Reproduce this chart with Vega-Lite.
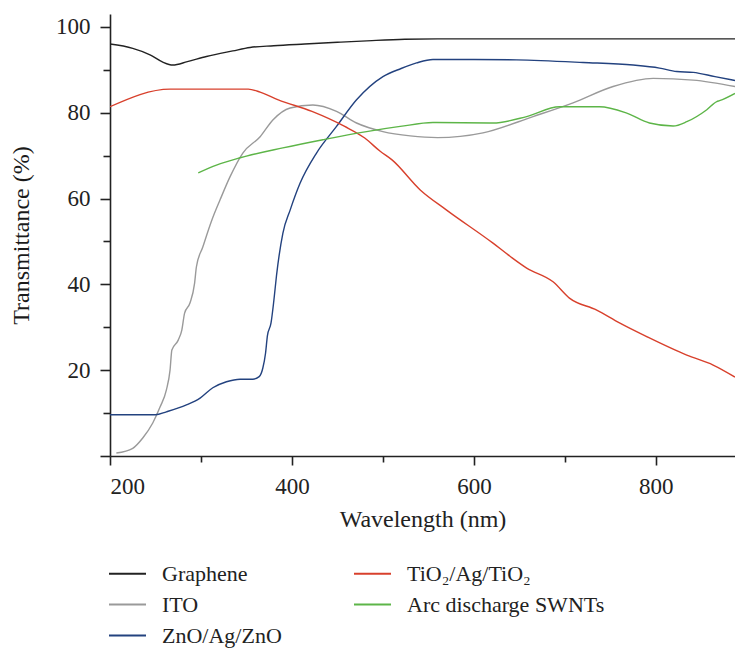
{
  "$schema": "https://vega.github.io/schema/vega-lite/v6.json",
  "autosize": "none",
  "width": 625,
  "height": 442,
  "padding": {"left": 110, "top": 14, "right": 0, "bottom": 192},
  "background": "white",
  "config": {
    "view": {"stroke": null},
    "font": "Liberation Serif"
  },
  "datasets": {
    "curves": [
      {"series": "Graphene", "nm": 200, "T": 96.0},
      {"series": "Graphene", "nm": 225, "T": 95.0},
      {"series": "Graphene", "nm": 244, "T": 93.5},
      {"series": "Graphene", "nm": 258, "T": 91.8},
      {"series": "Graphene", "nm": 269, "T": 91.1},
      {"series": "Graphene", "nm": 285, "T": 91.9},
      {"series": "Graphene", "nm": 306, "T": 93.1},
      {"series": "Graphene", "nm": 335, "T": 94.4},
      {"series": "Graphene", "nm": 354, "T": 95.2},
      {"series": "Graphene", "nm": 380, "T": 95.6},
      {"series": "Graphene", "nm": 414, "T": 96.0},
      {"series": "Graphene", "nm": 450, "T": 96.4},
      {"series": "Graphene", "nm": 488, "T": 96.8},
      {"series": "Graphene", "nm": 524, "T": 97.1},
      {"series": "Graphene", "nm": 560, "T": 97.2},
      {"series": "Graphene", "nm": 887, "T": 97.2},

      {"series": "ITO", "nm": 207, "T": 0.7},
      {"series": "ITO", "nm": 225, "T": 1.8},
      {"series": "ITO", "nm": 236, "T": 4.2},
      {"series": "ITO", "nm": 247, "T": 7.7},
      {"series": "ITO", "nm": 255, "T": 11.4},
      {"series": "ITO", "nm": 262, "T": 15.4},
      {"series": "ITO", "nm": 266, "T": 20.0},
      {"series": "ITO", "nm": 268, "T": 24.7},
      {"series": "ITO", "nm": 275, "T": 27.0},
      {"series": "ITO", "nm": 279, "T": 29.4},
      {"series": "ITO", "nm": 282, "T": 33.3},
      {"series": "ITO", "nm": 288, "T": 35.7},
      {"series": "ITO", "nm": 293, "T": 40.3},
      {"series": "ITO", "nm": 295, "T": 44.1},
      {"series": "ITO", "nm": 302, "T": 48.7},
      {"series": "ITO", "nm": 312, "T": 55.0},
      {"series": "ITO", "nm": 321, "T": 59.7},
      {"series": "ITO", "nm": 332, "T": 65.1},
      {"series": "ITO", "nm": 346, "T": 70.6},
      {"series": "ITO", "nm": 365, "T": 74.4},
      {"series": "ITO", "nm": 379, "T": 78.3},
      {"series": "ITO", "nm": 398, "T": 81.1},
      {"series": "ITO", "nm": 423, "T": 81.8},
      {"series": "ITO", "nm": 449, "T": 80.3},
      {"series": "ITO", "nm": 471, "T": 77.6},
      {"series": "ITO", "nm": 500, "T": 75.6},
      {"series": "ITO", "nm": 530, "T": 74.6},
      {"series": "ITO", "nm": 560, "T": 74.2},
      {"series": "ITO", "nm": 610, "T": 75.3},
      {"series": "ITO", "nm": 665, "T": 79.1},
      {"series": "ITO", "nm": 709, "T": 82.3},
      {"series": "ITO", "nm": 753, "T": 86.1},
      {"series": "ITO", "nm": 797, "T": 88.0},
      {"series": "ITO", "nm": 841, "T": 87.6},
      {"series": "ITO", "nm": 887, "T": 86.1},

      {"series": "ZnO/Ag/ZnO", "nm": 200, "T": 9.6},
      {"series": "ZnO/Ag/ZnO", "nm": 250, "T": 9.6},
      {"series": "ZnO/Ag/ZnO", "nm": 262, "T": 10.3},
      {"series": "ZnO/Ag/ZnO", "nm": 284, "T": 11.9},
      {"series": "ZnO/Ag/ZnO", "nm": 299, "T": 13.5},
      {"series": "ZnO/Ag/ZnO", "nm": 313, "T": 15.9},
      {"series": "ZnO/Ag/ZnO", "nm": 328, "T": 17.3},
      {"series": "ZnO/Ag/ZnO", "nm": 343, "T": 17.9},
      {"series": "ZnO/Ag/ZnO", "nm": 357, "T": 17.9},
      {"series": "ZnO/Ag/ZnO", "nm": 364, "T": 18.5},
      {"series": "ZnO/Ag/ZnO", "nm": 368, "T": 20.5},
      {"series": "ZnO/Ag/ZnO", "nm": 371, "T": 24.0},
      {"series": "ZnO/Ag/ZnO", "nm": 373, "T": 28.0},
      {"series": "ZnO/Ag/ZnO", "nm": 377, "T": 31.0},
      {"series": "ZnO/Ag/ZnO", "nm": 380, "T": 36.0},
      {"series": "ZnO/Ag/ZnO", "nm": 383, "T": 42.0},
      {"series": "ZnO/Ag/ZnO", "nm": 390, "T": 51.9},
      {"series": "ZnO/Ag/ZnO", "nm": 398, "T": 57.3},
      {"series": "ZnO/Ag/ZnO", "nm": 409, "T": 63.6},
      {"series": "ZnO/Ag/ZnO", "nm": 427, "T": 70.6},
      {"series": "ZnO/Ag/ZnO", "nm": 449, "T": 76.8},
      {"series": "ZnO/Ag/ZnO", "nm": 471, "T": 83.0},
      {"series": "ZnO/Ag/ZnO", "nm": 500, "T": 88.4},
      {"series": "ZnO/Ag/ZnO", "nm": 520, "T": 90.3},
      {"series": "ZnO/Ag/ZnO", "nm": 537, "T": 91.6},
      {"series": "ZnO/Ag/ZnO", "nm": 555, "T": 92.4},
      {"series": "ZnO/Ag/ZnO", "nm": 600, "T": 92.4},
      {"series": "ZnO/Ag/ZnO", "nm": 647, "T": 92.3},
      {"series": "ZnO/Ag/ZnO", "nm": 720, "T": 91.7},
      {"series": "ZnO/Ag/ZnO", "nm": 775, "T": 91.1},
      {"series": "ZnO/Ag/ZnO", "nm": 804, "T": 90.4},
      {"series": "ZnO/Ag/ZnO", "nm": 823, "T": 89.6},
      {"series": "ZnO/Ag/ZnO", "nm": 841, "T": 89.4},
      {"series": "ZnO/Ag/ZnO", "nm": 865, "T": 88.4},
      {"series": "ZnO/Ag/ZnO", "nm": 887, "T": 87.5},

      {"series": "TiO₂/Ag/TiO₂", "nm": 200, "T": 81.4},
      {"series": "TiO₂/Ag/TiO₂", "nm": 266, "T": 85.5},
      {"series": "TiO₂/Ag/TiO₂", "nm": 352, "T": 85.5},
      {"series": "TiO₂/Ag/TiO₂", "nm": 365, "T": 84.8},
      {"series": "TiO₂/Ag/TiO₂", "nm": 385, "T": 83.0},
      {"series": "TiO₂/Ag/TiO₂", "nm": 422, "T": 80.3},
      {"series": "TiO₂/Ag/TiO₂", "nm": 458, "T": 76.8},
      {"series": "TiO₂/Ag/TiO₂", "nm": 480, "T": 74.1},
      {"series": "TiO₂/Ag/TiO₂", "nm": 497, "T": 71.0},
      {"series": "TiO₂/Ag/TiO₂", "nm": 510, "T": 69.0},
      {"series": "TiO₂/Ag/TiO₂", "nm": 541, "T": 62.0},
      {"series": "TiO₂/Ag/TiO₂", "nm": 570, "T": 57.3},
      {"series": "TiO₂/Ag/TiO₂", "nm": 621, "T": 49.6},
      {"series": "TiO₂/Ag/TiO₂", "nm": 640, "T": 46.5},
      {"series": "TiO₂/Ag/TiO₂", "nm": 658, "T": 43.8},
      {"series": "TiO₂/Ag/TiO₂", "nm": 687, "T": 40.6},
      {"series": "TiO₂/Ag/TiO₂", "nm": 705, "T": 36.8},
      {"series": "TiO₂/Ag/TiO₂", "nm": 735, "T": 34.0},
      {"series": "TiO₂/Ag/TiO₂", "nm": 760, "T": 31.0},
      {"series": "TiO₂/Ag/TiO₂", "nm": 790, "T": 27.8},
      {"series": "TiO₂/Ag/TiO₂", "nm": 834, "T": 23.5},
      {"series": "TiO₂/Ag/TiO₂", "nm": 863, "T": 21.2},
      {"series": "TiO₂/Ag/TiO₂", "nm": 887, "T": 18.4},

      {"series": "Arc discharge SWNTs", "nm": 297, "T": 66.0},
      {"series": "Arc discharge SWNTs", "nm": 317, "T": 67.8},
      {"series": "Arc discharge SWNTs", "nm": 343, "T": 69.5},
      {"series": "Arc discharge SWNTs", "nm": 390, "T": 71.8},
      {"series": "Arc discharge SWNTs", "nm": 434, "T": 73.7},
      {"series": "Arc discharge SWNTs", "nm": 482, "T": 75.6},
      {"series": "Arc discharge SWNTs", "nm": 519, "T": 76.8},
      {"series": "Arc discharge SWNTs", "nm": 555, "T": 77.7},
      {"series": "Arc discharge SWNTs", "nm": 621, "T": 77.6},
      {"series": "Arc discharge SWNTs", "nm": 658, "T": 79.1},
      {"series": "Arc discharge SWNTs", "nm": 694, "T": 81.4},
      {"series": "Arc discharge SWNTs", "nm": 738, "T": 81.4},
      {"series": "Arc discharge SWNTs", "nm": 768, "T": 79.9},
      {"series": "Arc discharge SWNTs", "nm": 793, "T": 77.6},
      {"series": "Arc discharge SWNTs", "nm": 819, "T": 76.9},
      {"series": "Arc discharge SWNTs", "nm": 834, "T": 77.9},
      {"series": "Arc discharge SWNTs", "nm": 856, "T": 80.7},
      {"series": "Arc discharge SWNTs", "nm": 867, "T": 82.6},
      {"series": "Arc discharge SWNTs", "nm": 870, "T": 82.8},
      {"series": "Arc discharge SWNTs", "nm": 887, "T": 84.5}
    ]
  },
  "layer": [
    {
      "mark": {"type": "rule", "color": "#222222", "strokeWidth": 1.6},
      "encoding": {
        "y": {"datum": 103, "type": "quantitative", "scale": {"domain": [0, 103], "nice": false}}
      }
    },
    {
      "data": {"name": "curves"},
      "mark": {"type": "line", "interpolate": "monotone", "strokeWidth": 1.4, "clip": true},
      "encoding": {
        "x": {
          "field": "nm", "type": "quantitative",
          "scale": {"domain": [200, 887], "nice": false, "zero": false},
          "axis": {
            "title": "Wavelength (nm)",
            "values": [200, 300, 400, 500, 600, 700, 800],
            "labelExpr": "datum.value % 200 === 0 ? datum.label : ''",
            "tickSize": {"condition": {"test": "datum.value % 200 === 0", "value": 9}, "value": 6},
            "grid": false,
            "domainColor": "#222222", "tickColor": "#222222", "domainWidth": 1.6, "tickWidth": 1.6,
            "labelFont": "Liberation Serif", "labelFontSize": 23, "labelColor": "#222222", "labelPadding": 10,
            "titleFont": "Liberation Serif", "titleFontSize": 24, "titleFontWeight": "normal", "titleColor": "#222222", "titlePadding": 9
          }
        },
        "y": {
          "field": "T", "type": "quantitative",
          "scale": {"domain": [0, 103], "nice": false},
          "axis": {
            "title": "Transmittance (%)",
            "values": [0, 10, 20, 30, 40, 50, 60, 70, 80, 90, 100],
            "labelExpr": "datum.value % 20 === 0 && datum.value > 0 ? datum.label : ''",
            "tickSize": {"condition": {"test": "datum.value % 20 === 0", "value": 10}, "value": 7},
            "grid": false,
            "domainColor": "#222222", "tickColor": "#222222", "domainWidth": 1.6, "tickWidth": 1.6,
            "labelFont": "Liberation Serif", "labelFontSize": 23, "labelColor": "#222222", "labelPadding": 10,
            "titleFont": "Liberation Serif", "titleFontSize": 24, "titleFontWeight": "normal", "titleColor": "#1a1a1a", "titlePadding": 22
          }
        },
        "color": {
          "field": "series", "type": "nominal",
          "scale": {
            "domain": ["Graphene", "ITO", "ZnO/Ag/ZnO", "TiO₂/Ag/TiO₂", "Arc discharge SWNTs"],
            "range": ["#222222", "#9a9a9a", "#23427f", "#d8402c", "#5db548"]
          },
          "legend": {
            "title": null,
            "orient": "none",
            "legendX": -2,
            "legendY": 540,
            "columns": 2,
            "columnPadding": 68,
            "rowPadding": -1,
            "padding": 0,
            "symbolType": "stroke",
            "symbolSize": 1369,
            "symbolStrokeWidth": 2,
            "labelFont": "Liberation Serif",
            "labelFontSize": 22,
            "labelColor": "#222222",
            "labelOffset": 15,
            "labelLimit": 400
          }
        }
      }
    }
  ]
}
